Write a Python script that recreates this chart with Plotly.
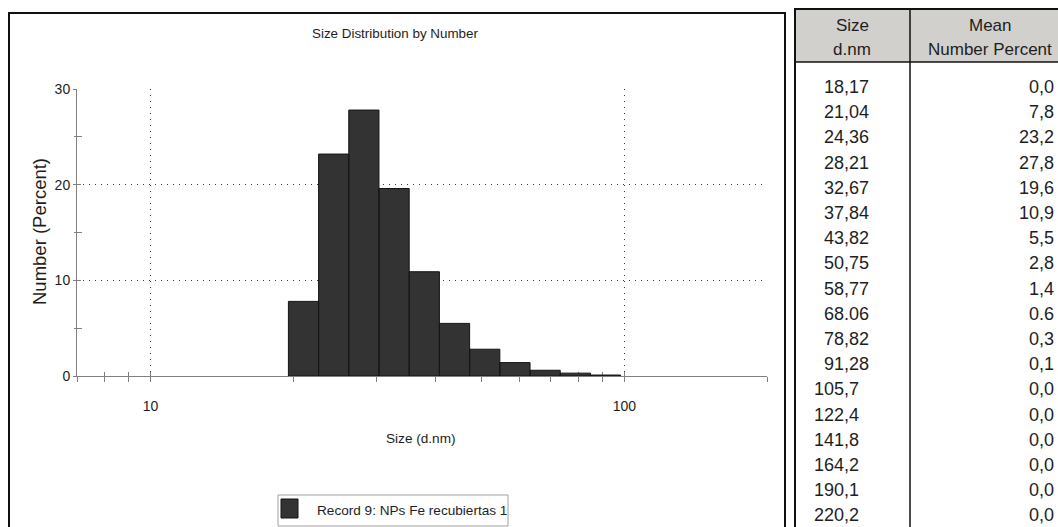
import math
import plotly.graph_objects as go

# ---------------- data ----------------
size_labels = ["18,17", "21,04", "24,36", "28,21", "32,67", "37,84", "43,82", "50,75",
               "58,77", "68.06", "78,82", "91,28", "105,7", "122,4", "141,8", "164,2",
               "190,1", "220,2"]
size_nm = [18.17, 21.04, 24.36, 28.21, 32.67, 37.84, 43.82, 50.75,
           58.77, 68.06, 78.82, 91.28, 105.7, 122.4, 141.8, 164.2, 190.1, 220.2]
number_pct = [0.0, 7.8, 23.2, 27.8, 19.6, 10.9, 5.5, 2.8,
              1.4, 0.6, 0.3, 0.1, 0.0, 0.0, 0.0, 0.0, 0.0, 0.0]
pct_labels = ["0,0", "7,8", "23,2", "27,8", "19,6", "10,9", "5,5", "2,8",
              "1,4", "0.6", "0,3", "0,1", "0,0", "0,0", "0,0", "0,0", "0,0", "0,0"]

x_major = [10, 100]
x_major_text = ["10", "100"]
x_minor = [7, 8, 9, 20, 30, 40, 50, 60, 70, 80, 90, 200]
y_major = [0, 10, 20, 30]
y_minor = [5, 15, 25]

chart_title = "Size Distribution by Number"
x_title = "Size (d.nm)"
y_title = "Number (Percent)"
legend_text = "Record 9: NPs Fe recubiertas 1"
header_col1 = ["Size", "d.nm"]
header_col2 = ["Mean", "Number Percent"]

# ---------------- layout helpers ----------------
W, H = 1058, 527
def px(x):
    return x / W
def py(y):
    return 1 - y / H

SANS = "Liberation Sans, Arial, sans-serif"
TXT = "#1e1e1e"
AX = "#808080"

# histogram bars: edges at geometric means between neighbouring size classes
xs, ys = [], []
n = len(size_nm)
for i, (s, v) in enumerate(zip(size_nm, number_pct)):
    if v <= 0:
        continue
    left = math.sqrt(size_nm[i - 1] * s) if i > 0 else s * math.sqrt(s / size_nm[1])
    right = math.sqrt(s * size_nm[i + 1]) if i < n - 1 else s * math.sqrt(s / size_nm[-2])
    xs += [left, left, right, right, left, None]
    ys += [0, v, v, 0, 0, None]

fig = go.Figure()
fig.add_trace(go.Scatter(x=xs, y=ys, mode="lines", fill="toself",
                         fillcolor="#333333", line=dict(color="#151515", width=1),
                         hoverinfo="skip", showlegend=False))
# invisible traces to activate overlay axes (inside half of crossing ticks)
fig.add_trace(go.Scatter(x=[10], y=[0], xaxis="x2", yaxis="y", mode="markers",
                         marker=dict(opacity=0), showlegend=False, hoverinfo="skip"))
fig.add_trace(go.Scatter(x=[10], y=[0], xaxis="x", yaxis="y2", mode="markers",
                         marker=dict(opacity=0), showlegend=False, hoverinfo="skip"))

xr = [math.log10(7), math.log10(200)]
xdom = [px(77), px(767)]
ydom = [py(376), py(89)]
grid = dict(showgrid=True, gridcolor="#3a3a3a", gridwidth=1, griddash="1px,5px")

fig.update_layout(
    width=W, height=H, autosize=False,
    margin=dict(l=0, r=0, t=0, b=0, pad=0, autoexpand=False),
    paper_bgcolor="white", plot_bgcolor="white",
    showlegend=False,
    xaxis=dict(type="log", range=xr, domain=xdom, anchor="y",
               showline=True, linecolor=AX, linewidth=1, zeroline=False,
               ticks="outside", ticklen=5, tickcolor=AX, tickwidth=1,
               tickvals=x_major, ticktext=x_major_text,
               tickfont=dict(family=SANS, size=14, color=TXT),
               ticklabelstandoff=12,
               minor=dict(tickvals=x_minor, ticks="outside", ticklen=5,
                          tickcolor=AX, tickwidth=1, showgrid=False),
               **grid),
    xaxis2=dict(type="log", range=xr, overlaying="x", anchor="y",
                showline=False, showgrid=False, zeroline=False,
                ticks="inside", ticklen=4, tickcolor=AX, tickwidth=1,
                tickvals=x_major, showticklabels=False, layer="below traces",
                minor=dict(tickvals=x_minor, ticks="inside", ticklen=4,
                           tickcolor=AX, tickwidth=1, showgrid=False)),
    yaxis=dict(range=[0, 30], domain=ydom, anchor="x",
               showline=True, linecolor=AX, linewidth=1, zeroline=False,
               ticks="outside", ticklen=3, tickcolor=AX, tickwidth=1,
               tickvals=y_major, ticktext=[str(v) for v in y_major],
               tickfont=dict(family=SANS, size=14, color=TXT),
               ticklabelstandoff=0,
               minor=dict(tickvals=y_minor, ticks="outside", ticklen=2,
                          tickcolor=AX, tickwidth=1, showgrid=False),
               **grid),
    yaxis2=dict(range=[0, 30], overlaying="y", anchor="x",
                showline=False, showgrid=False, zeroline=False,
                ticks="inside", ticklen=4, tickcolor=AX, tickwidth=1,
                tickvals=y_major, showticklabels=False, layer="below traces",
                minor=dict(tickvals=y_minor, ticks="inside", ticklen=5,
                           tickcolor=AX, tickwidth=1, showgrid=False)),
)

shapes = []
ann = []
# chart panel frame
shapes.append(dict(type="rect", xref="paper", yref="paper",
                   x0=px(9), x1=px(785), y0=py(560), y1=py(13),
                   line=dict(color="#111111", width=2)))
# legend box
shapes.append(dict(type="rect", xref="paper", yref="paper",
                   x0=px(278), x1=px(508), y0=py(526), y1=py(495),
                   line=dict(color="#a0a0a0", width=1)))
shapes.append(dict(type="rect", xref="paper", yref="paper",
                   x0=px(281), x1=px(298), y0=py(518), y1=py(499),
                   fillcolor="#333333", line=dict(color="#151515", width=1)))
ann.append(dict(text=legend_text, xref="paper", yref="paper", x=px(315), y=py(510),
                xanchor="left", yanchor="middle", showarrow=False,
                font=dict(family=SANS, size=13.6, color=TXT)))

# chart texts
ann.append(dict(text=chart_title, xref="paper", yref="paper", x=px(395), y=py(34),
                xanchor="center", yanchor="middle", showarrow=False,
                font=dict(family=SANS, size=13.4, color=TXT)))
ann.append(dict(text=x_title, xref="paper", yref="paper", x=px(421), y=py(438),
                xanchor="center", yanchor="middle", showarrow=False,
                font=dict(family=SANS, size=13.6, color=TXT)))
ann.append(dict(text=y_title, xref="paper", yref="paper", x=px(40), y=py(232),
                xanchor="center", yanchor="middle", showarrow=False, textangle=-90,
                font=dict(family=SANS, size=18.5, color=TXT)))

# table
TL, TSEP, TR, TTOP, THB = 795, 910, 1085, 9, 62
shapes.append(dict(type="rect", xref="paper", yref="paper",
                   x0=px(TL), x1=px(TR), y0=py(THB), y1=py(TTOP),
                   fillcolor="#d2d0cc", line=dict(width=0), layer="below"))
shapes.append(dict(type="rect", xref="paper", yref="paper",
                   x0=px(TL), x1=px(TR), y0=py(560), y1=py(TTOP),
                   line=dict(color="#111111", width=2)))
shapes.append(dict(type="line", xref="paper", yref="paper",
                   x0=px(TL), x1=px(TR), y0=py(THB), y1=py(THB),
                   line=dict(color="#111111", width=1.5)))
shapes.append(dict(type="line", xref="paper", yref="paper",
                   x0=px(TSEP), x1=px(TSEP), y0=py(560), y1=py(TTOP),
                   line=dict(color="#111111", width=1.5)))

for txt, yy in zip(header_col1, [25, 50]):
    ann.append(dict(text=txt, xref="paper", yref="paper", x=px(852), y=py(yy),
                    xanchor="center", yanchor="middle", showarrow=False,
                    font=dict(family=SANS, size=17, color=TXT)))
for txt, yy in zip(header_col2, [25, 50]):
    ann.append(dict(text=txt, xref="paper", yref="paper", x=px(990), y=py(yy),
                    xanchor="center", yanchor="middle", showarrow=False,
                    font=dict(family=SANS, size=17, color=TXT)))

row0, step = 87, 25.2
for i, (sl, pl) in enumerate(zip(size_labels, pct_labels)):
    yy = row0 + i * step
    dec = sl.replace(".", ",").split(",")[1]
    shown = sl + "\u2007" * (2 - len(dec))
    ann.append(dict(text=shown, xref="paper", yref="paper", x=px(871), y=py(yy),
                    xanchor="right", yanchor="middle", showarrow=False,
                    font=dict(family=SANS, size=18, color=TXT)))
    ann.append(dict(text=pl, xref="paper", yref="paper", x=px(1056), y=py(yy),
                    xanchor="right", yanchor="middle", showarrow=False,
                    font=dict(family=SANS, size=18, color=TXT)))

fig.update_layout(shapes=shapes, annotations=ann)
fig.write_html("out.html")
